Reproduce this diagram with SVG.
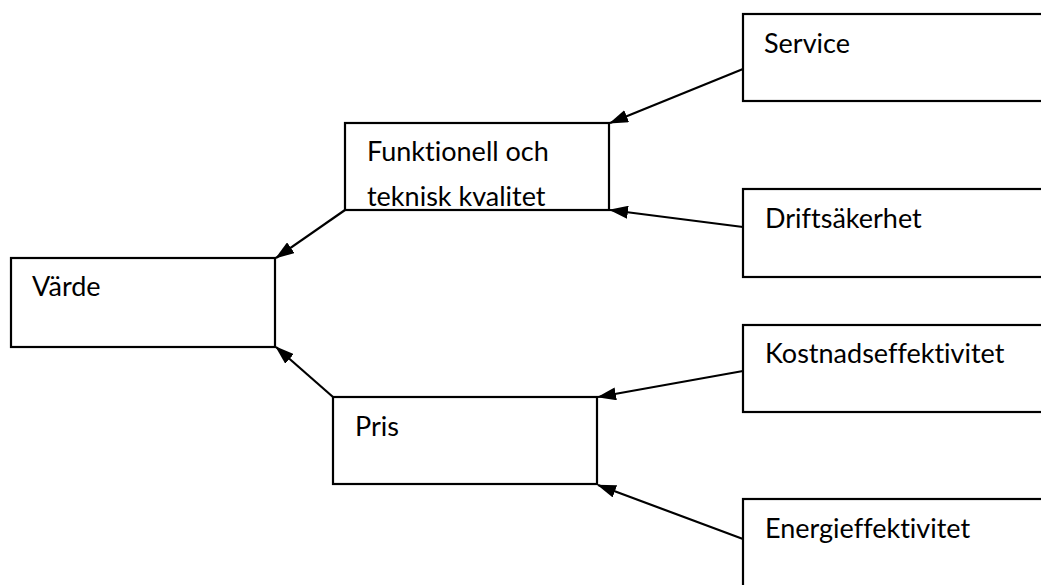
<svg xmlns="http://www.w3.org/2000/svg" width="1041" height="585" viewBox="0 0 1041 585">
<style>
.box{fill:#fff;stroke:#000;stroke-width:2.2}
.t{font-family:Lato,"Liberation Sans",sans-serif;font-size:27px;fill:#000;font-variant-ligatures:none;font-feature-settings:"liga" 0}
.c{stroke:#000;stroke-width:2.2;fill:none}
</style>
<defs>
<marker id="ah" viewBox="0 0 19 13" refX="18" refY="6.5" markerWidth="19" markerHeight="13" markerUnits="userSpaceOnUse" orient="auto">
<path d="M0,0 L19,6.5 L0,13 z" fill="#000"/>
</marker>
<clipPath id="fclip"><rect x="346" y="124" width="262" height="83"/></clipPath>
</defs>
<rect width="1041" height="585" fill="#fff"/>
<g id="connectors">
<line class="c" x1="743" y1="69" x2="610" y2="123" marker-end="url(#ah)"/>
<line class="c" x1="743" y1="227" x2="610" y2="210" marker-end="url(#ah)"/>
<line class="c" x1="345" y1="210" x2="276" y2="258" marker-end="url(#ah)"/>
<line class="c" x1="333" y1="397" x2="276" y2="347" marker-end="url(#ah)"/>
<line class="c" x1="743" y1="371" x2="598" y2="397" marker-end="url(#ah)"/>
<line class="c" x1="743" y1="539" x2="598" y2="485" marker-end="url(#ah)"/>
</g>
<g id="varde">
<rect class="box" x="11" y="258" width="264" height="89"/>
<text class="t" x="32" y="296">Värde</text>
</g>
<g id="funktionell">
<rect class="box" x="345" y="123" width="264" height="87"/>
<g clip-path="url(#fclip)">
<text class="t" x="367" y="161">Funktionell och</text>
<text class="t" x="367" y="206">teknisk kvalitet</text>
</g>
</g>
<g id="pris">
<rect class="box" x="333" y="397" width="264" height="87"/>
<text class="t" x="355" y="436">Pris</text>
</g>
<g id="service">
<rect class="box" x="743" y="14" width="320" height="87"/>
<text class="t" x="764" y="53">Service</text>
</g>
<g id="driftsakerhet">
<rect class="box" x="743" y="189" width="320" height="88"/>
<text class="t" x="765" y="228">Driftsäkerhet</text>
</g>
<g id="kostnadseffektivitet">
<rect class="box" x="743" y="325" width="320" height="87"/>
<text class="t" x="765" y="363">Kostnadseffektivitet</text>
</g>
<g id="energieffektivitet">
<rect class="box" x="743" y="499" width="320" height="120"/>
<text class="t" x="765" y="538">Energieffektivitet</text>
</g>
</svg>
